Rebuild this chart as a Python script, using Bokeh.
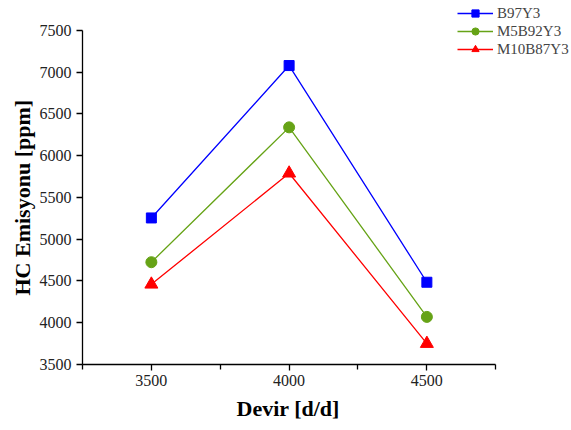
from bokeh.plotting import figure
from bokeh.models import Range1d, FixedTicker, Legend, LegendItem, Title
from bokeh.embed import file_html
from bokeh.resources import INLINE

rpm = [3500, 4000, 4500]
b97y3 = [5255, 7080, 4485]
m5b92y3 = [4725, 6340, 4070]
m10b87y3 = [4460, 5790, 3750]
names = ["B97Y3", "M5B92Y3", "M10B87Y3"]
x_ticks = [3500, 4000, 4500]
x_minor = [3250, 3750, 4250, 4750]
y_ticks = [3500, 4000, 4500, 5000, 5500, 6000, 6500, 7000, 7500]
x_axis_span = (3250, 4750)
y_axis_span = (3500, 7500)
x_label = "Devir [d/d]"
y_label = "HC Emisyonu [ppm]"

FONT = "Liberation Serif"

# frame extends past the axes (to the canvas top/right) so the legend is not clipped
p = figure(width=571, height=428, output_backend="svg", toolbar_location=None,
           x_range=Range1d(3250, 5025), y_range=Range1d(3500, 7859),
           min_border_left=82, min_border_right=0, min_border_top=0, min_border_bottom=64)
p.outline_line_color = None
p.xgrid.visible = False
p.ygrid.visible = False

for ax in (p.xaxis[0], p.yaxis[0]):
    ax.axis_line_width = 1.3
    ax.axis_line_color = "black"
    ax.major_tick_line_color = "black"
    ax.major_tick_line_width = 1.3
    ax.minor_tick_line_color = "black"
    ax.minor_tick_line_width = 1.3
    ax.major_tick_in = 0
    ax.major_tick_out = 6
    ax.minor_tick_in = 0
    ax.minor_tick_out = 5
    ax.major_label_text_font = FONT
    ax.major_label_text_font_size = "16px"
    ax.major_label_text_color = "#222222"

p.xaxis.bounds = x_axis_span
p.yaxis.bounds = y_axis_span
p.xaxis.ticker = FixedTicker(ticks=x_ticks, minor_ticks=x_minor)
p.yaxis.ticker = FixedTicker(ticks=y_ticks, minor_ticks=[])
p.xaxis.major_label_standoff = 4
p.yaxis.major_label_standoff = 5

# axis titles placed relative to the drawn axis spans (frame is larger than the axes)
xt = Title(text=x_label, align="left", offset=154, text_font=FONT,
           text_font_style="bold", text_font_size="22px", text_color="black", standoff=10)
p.add_layout(xt, "below")
yt = Title(text=y_label, align="left", offset=69, text_font=FONT,
           text_font_style="bold", text_font_size="22px", text_color="black", standoff=4)
p.add_layout(yt, "left")

l1 = p.line(rpm, b97y3, line_color="#0000FF", line_width=1.3)
m1 = p.scatter(rpm, b97y3, marker="square", size=10, fill_color="#0000FF", line_color="#0000FF")
l2 = p.line(rpm, m5b92y3, line_color="#66A316", line_width=1.3)
m2 = p.scatter(rpm, m5b92y3, marker="circle", size=11, fill_color="#66A316", line_color="#66A316")
l3 = p.line(rpm, m10b87y3, line_color="#FF0000", line_width=1.3)
m3 = p.scatter(rpm, m10b87y3, marker="triangle", size=13, fill_color="#FF0000", line_color="#FF0000")

legend = Legend(items=[LegendItem(label=names[0], renderers=[l1, m1]),
                       LegendItem(label=names[1], renderers=[l2, m2]),
                       LegendItem(label=names[2], renderers=[l3, m3])],
                location=(375, 306), orientation="vertical",
                padding=0, margin=0, spacing=0, glyph_width=36, glyph_height=18,
                label_height=18, label_standoff=4,
                label_text_font=FONT, label_text_font_size="15px",
                border_line_alpha=0, background_fill_alpha=0)
p.add_layout(legend, "center")

open("out.html", "w").write(file_html(p, INLINE))
